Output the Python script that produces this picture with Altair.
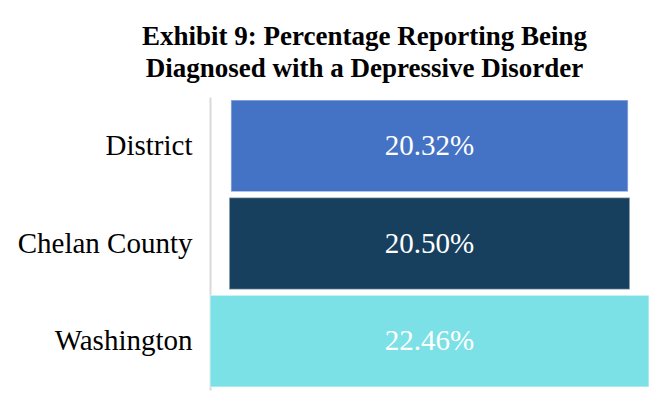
import altair as alt
import pandas as pd

categories = ["District", "Chelan County", "Washington"]
values = [20.32, 20.50, 22.46]
colors = ["#4472C4", "#17405F", "#7BE1E6"]
title_lines = ["Exhibit 9: Percentage Reporting Being", "Diagnosed with a Depressive Disorder"]

df = pd.DataFrame({"category": categories, "value": values, "color": colors})
df["half"] = df["value"] / 2
df["neg"] = -df["half"]
df["label"] = [f"{v:.2f}%" for v in values]

maxv = max(values) / 2
xscale = alt.Scale(domain=[-maxv, maxv], nice=False, zero=False)
y = alt.Y(
    "category:N",
    sort=categories,
    scale=alt.Scale(paddingInner=0.06, paddingOuter=0.03),
    axis=alt.Axis(
        title=None, domain=True, domainColor="#d9d9d9", domainWidth=2,
        ticks=False, grid=False, labelFont="Liberation Serif", labelFontSize=29,
        labelColor="#000000", labelPadding=18, labelLimit=400,
    ),
)

base = alt.Chart(df)
bars = base.mark_bar(stroke="#ffffff", strokeOpacity=0.45, strokeWidth=1.5).encode(
    x=alt.X("neg:Q", scale=xscale, axis=None),
    x2="half:Q",
    y=y,
    color=alt.Color("color:N", scale=None, legend=None),
)
texts = base.mark_text(font="Liberation Serif", fontSize=29, color="white").encode(
    x=alt.XDatum(0, scale=xscale, axis=None),
    y=y,
    text="label:N",
)

chart = (
    alt.layer(bars, texts)
    .properties(
        width=439,
        height=293,
        autosize=alt.AutoSizeParams(type="none"),
        padding={"left": 202, "top": 89, "right": 0, "bottom": 8},
        title=alt.Title(
            title_lines, font="Liberation Serif", fontWeight="bold", fontSize=27,
            color="#000000", anchor="middle", frame="group", dx=-65, offset=14,
            lineHeight=32,
        ),
    )
    .configure_view(stroke=None)
)

chart.save("out.html", embed_options={"renderer": "svg", "actions": False})
